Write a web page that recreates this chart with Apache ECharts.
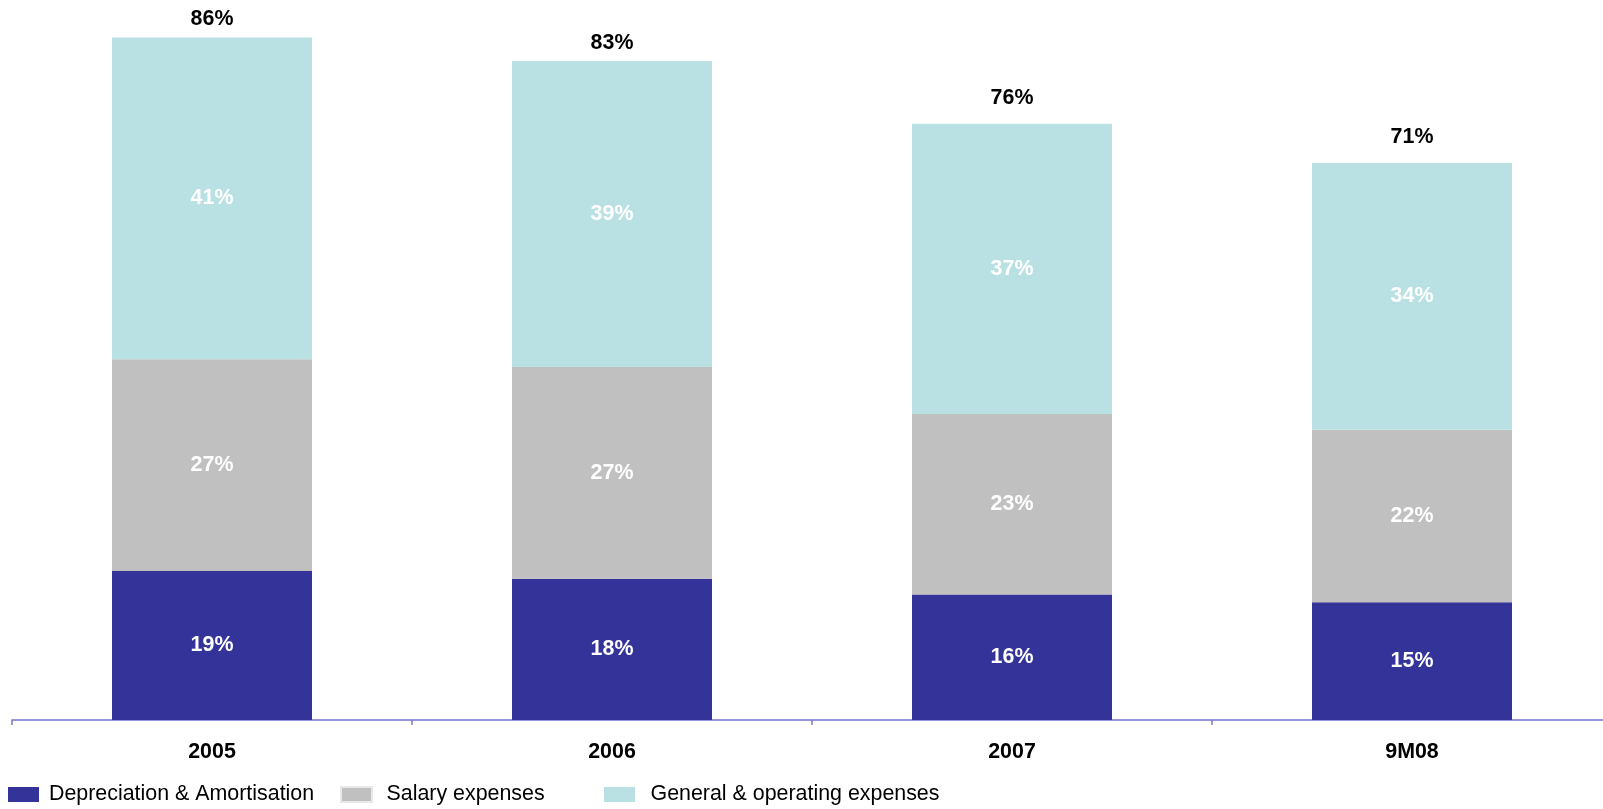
<!DOCTYPE html>
<html>
<head>
<meta charset="utf-8">
<title>Cost breakdown</title>
<script src="https://cdn.jsdelivr.net/npm/echarts@6/dist/echarts.min.js"></script>
<style>
  html, body { margin: 0; padding: 0; background: #ffffff; }
  #chart { width: 1603px; height: 809px; }
</style>
</head>
<body>
<div id="chart"></div>
<script>
// Periods on the category axis
const categories = ['2005', '2006', '2007', '9M08'];

// Cost components, in percent
const depreciation = [19, 18, 16, 15];
const salary = [27, 27, 23, 22];
const general = [41, 39, 37, 34];

// Reported totals shown above each column
const totals = [86, 83, 76, 71];

const seriesNames = ['Depreciation & Amortisation', 'Salary expenses', 'General & operating expenses'];
const colors = ['#333399', '#C0C0C0', '#B9E0E3'];

const FONT = 'Liberation Sans, Arial, Helvetica, sans-serif';
const FS = 21.4;

const pct = p => p.value + '%';

const insideLabel = {
  show: true,
  position: 'inside',
  color: '#ffffff',
  fontFamily: FONT,
  fontWeight: 'bold',
  fontSize: FS,
  formatter: pct
};

function barSeries(name, data, color) {
  return {
    name: name,
    type: 'bar',
    stack: 'cost',
    barWidth: '50%',
    data: data,
    itemStyle: { color: color },
    label: insideLabel,
    emphasis: { disabled: true }
  };
}

// One legend block per series, each at its own column
function legendAt(left, name, textGap, extraIcon) {
  return {
    left: left,
    top: 784,
    padding: 0,
    orient: 'horizontal',
    data: [{ name: name, itemStyle: extraIcon || {} }],
    icon: 'rect',
    itemWidth: 31,
    itemHeight: 15,
    selectedMode: false,
    textStyle: {
      fontFamily: FONT,
      fontSize: FS,
      color: '#000000',
      padding: [0, 0, 0, textGap]
    }
  };
}

const chart = echarts.init(document.getElementById('chart'), null, { renderer: 'canvas' });

chart.setOption({
  animation: false,
  color: colors,
  grid: { left: 12, width: 1600, top: 14, bottom: 89, containLabel: false, outerBoundsMode: 'none' },
  legend: [
    legendAt(8, seriesNames[0], 5),
    legendAt(340, seriesNames[1], 9.5, { borderColor: '#e8e8e8', borderWidth: 2 }),
    legendAt(604, seriesNames[2], 10.5)
  ],
  xAxis: {
    type: 'category',
    data: categories,
    boundaryGap: true,
    axisLine: { show: true, lineStyle: { color: '#7777cc', width: 1.5 } },
    axisTick: { show: true, length: 5, alignWithLabel: false, lineStyle: { color: '#7777cc', width: 1.5 } },
    axisLabel: {
      color: '#000000',
      fontFamily: FONT,
      fontWeight: 'bold',
      fontSize: FS,
      margin: 22
    }
  },
  yAxis: {
    type: 'value',
    min: 0,
    max: 90,
    show: false,
    splitLine: { show: false }
  },
  series: [
    barSeries(seriesNames[0], depreciation, colors[0]),
    barSeries(seriesNames[1], salary, colors[1]),
    barSeries(seriesNames[2], general, colors[2]),
    {
      name: 'Total',
      type: 'line',
      data: totals,
      symbol: 'circle',
      symbolSize: 1,
      itemStyle: { color: 'rgba(0,0,0,0)' },
      lineStyle: { width: 0, opacity: 0 },
      label: {
        show: true,
        position: 'top',
        distance: 15,
        color: '#000000',
        fontFamily: FONT,
        fontWeight: 'bold',
        fontSize: FS,
        formatter: pct
      },
      emphasis: { disabled: true },
      z: 5
    }
  ]
});
</script>
</body>
</html>
